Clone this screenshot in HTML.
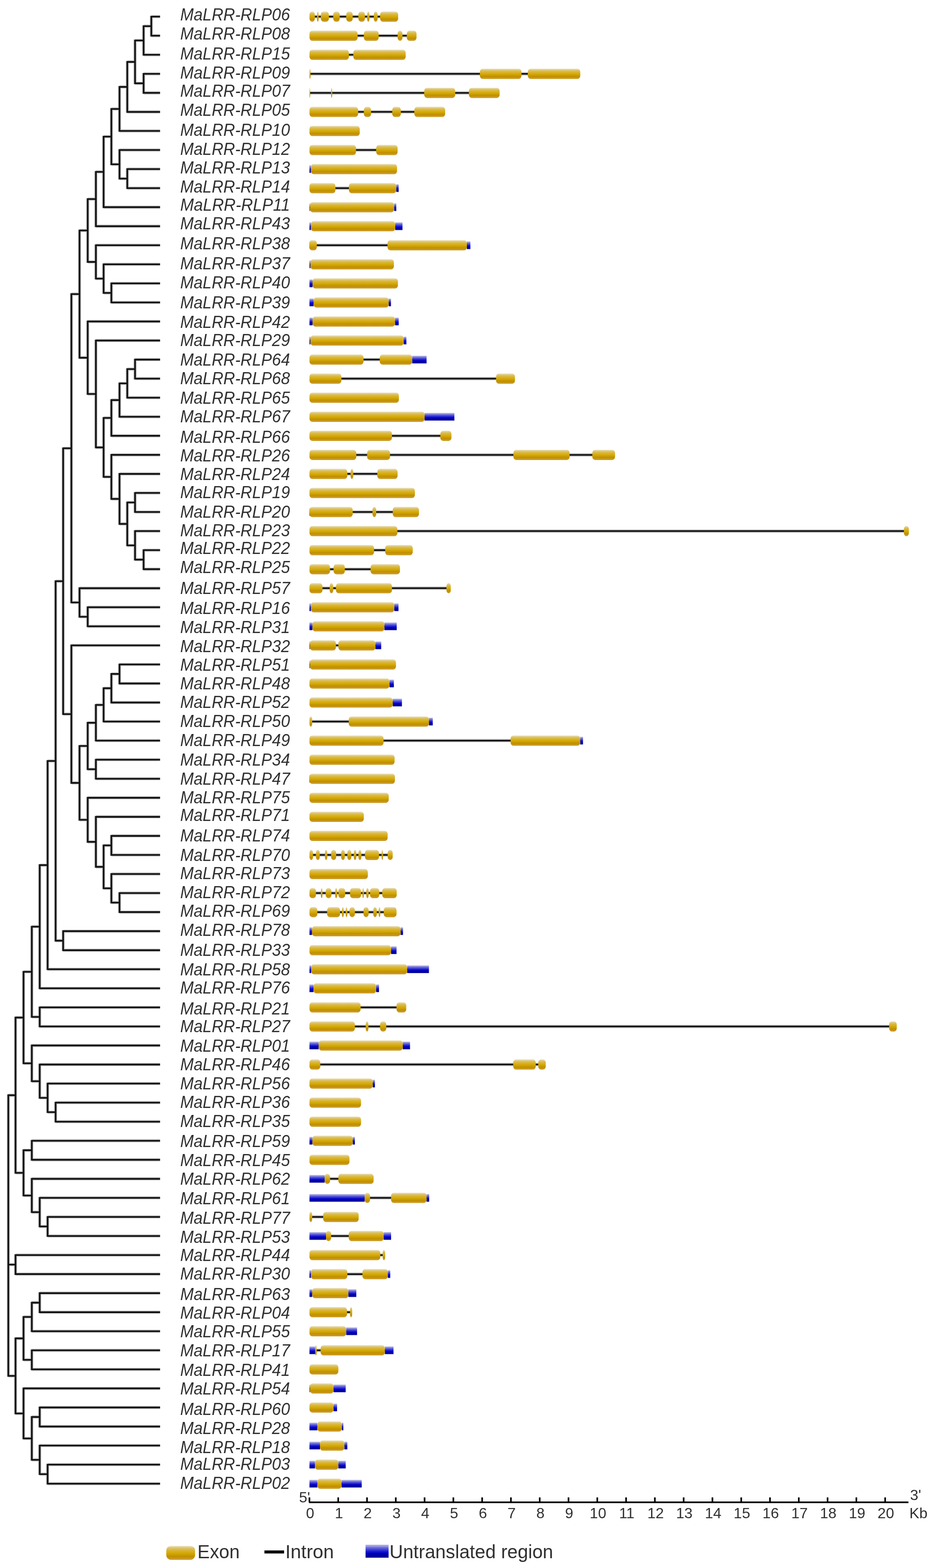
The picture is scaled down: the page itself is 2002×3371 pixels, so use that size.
<!DOCTYPE html>
<html><head><meta charset="utf-8"><title>MaLRR-RLP gene structure</title><style>html,body{margin:0;padding:0;background:#fff}svg{display:block}</style></head><body>
<svg width="2002" height="3371" viewBox="0 0 2002 3371">
<defs>
<linearGradient id="ex" x1="0" y1="0" x2="0" y2="1"><stop offset="0" stop-color="#ebe1bc"/><stop offset="0.07" stop-color="#e4d6a0"/><stop offset="0.14" stop-color="#dcc676"/><stop offset="0.28" stop-color="#dab840"/><stop offset="0.4" stop-color="#d8b020"/><stop offset="0.53" stop-color="#d4a800"/><stop offset="0.64" stop-color="#c89e00"/><stop offset="0.77" stop-color="#c08c00"/><stop offset="0.86" stop-color="#c8961a"/><stop offset="1" stop-color="#cc9e28"/></linearGradient>
<linearGradient id="ut" x1="0" y1="0" x2="0" y2="1"><stop offset="0" stop-color="#b8b8e0"/><stop offset="0.12" stop-color="#9a9ade"/><stop offset="0.22" stop-color="#6e6ed8"/><stop offset="0.38" stop-color="#4040d8"/><stop offset="0.55" stop-color="#1010d8"/><stop offset="0.68" stop-color="#0000b0"/><stop offset="0.85" stop-color="#0000a0"/><stop offset="1" stop-color="#101090"/></linearGradient>
</defs>
<rect width="100%" height="100%" fill="#fff"/>
<path d="M325.4 34V78.56M325.4 35.8H344.2M325.4 76.76H344.2M308.8 54.48V119.52M308.8 56.28H325.4M308.8 117.72H344.2M308.8 156.88V201.44M308.8 158.68H344.2M308.8 199.64H344.2M290.4 85.2V180.96M290.4 87H308.8M290.4 179.16H308.8M273.7 131.28V242.4M273.7 133.08H290.4M273.7 240.6H344.2M257 185.04V283.36M257 186.84H273.7M257 281.56H344.2M273.7 361.68V406.24M273.7 363.48H344.2M273.7 404.44H344.2M257 320.72V385.76M257 322.52H344.2M257 383.96H273.7M239.5 232.4V355.04M239.5 234.2H257M239.5 353.24H257M222.8 291.92V447.2M222.8 293.72H239.5M222.8 445.4H344.2M206.2 367.76V488.16M206.2 369.56H222.8M206.2 486.36H344.2M239.5 607.44V652M239.5 609.24H344.2M239.5 650.2H344.2M222.8 566.48V631.52M222.8 568.28H344.2M222.8 629.72H239.5M206.2 525.52V600.8M206.2 527.32H344.2M206.2 599H222.8M188.6 426.16V564.96M188.6 427.96H206.2M188.6 563.16H206.2M290.4 771.28V815.84M290.4 773.08H344.2M290.4 814.04H344.2M273.7 791.76V856.8M273.7 793.56H290.4M273.7 855H344.2M257 822.48V897.76M257 824.28H273.7M257 895.96H344.2M239.5 858.32V938.72M239.5 860.12H257M239.5 936.92H344.2M290.4 1058V1102.56M290.4 1059.8H344.2M290.4 1100.76H344.2M308.8 1180.88V1225.44M308.8 1182.68H344.2M308.8 1223.64H344.2M290.4 1139.92V1204.96M290.4 1141.72H344.2M290.4 1203.16H308.8M273.7 1078.48V1174.24M273.7 1080.28H290.4M273.7 1172.44H290.4M257 1017.04V1128.16M257 1018.84H344.2M257 1126.36H273.7M239.5 976.08V1074.4M239.5 977.88H344.2M239.5 1072.6H257M222.8 896.72V1027.04M222.8 898.52H239.5M222.8 1025.24H239.5M206.2 730.32V963.68M206.2 732.12H344.2M206.2 961.88H222.8M188.6 689.36V848.8M188.6 691.16H344.2M188.6 847H206.2M171 493.76V770.88M171 495.56H188.6M171 769.08H188.6M188.6 1303.76V1348.32M188.6 1305.56H344.2M188.6 1346.52H344.2M171 1262.8V1327.84M171 1264.6H344.2M171 1326.04H188.6M153.5 630.52V1297.12M153.5 632.32H171M153.5 1295.32H171M257 1426.64V1471.2M257 1428.44H344.2M257 1469.4H344.2M239.5 1447.12V1512.16M239.5 1448.92H257M239.5 1510.36H344.2M222.8 1477.84V1553.12M222.8 1479.64H239.5M222.8 1551.32H344.2M206.2 1513.68V1594.08M206.2 1515.48H222.8M206.2 1592.28H344.2M206.2 1631.44V1676M206.2 1633.24H344.2M206.2 1674.2H344.2M188.6 1552.08V1655.52M188.6 1553.88H206.2M188.6 1653.72H206.2M239.5 1795.28V1839.84M239.5 1797.08H344.2M239.5 1838.04H344.2M257 1918.16V1962.72M257 1919.96H344.2M257 1960.92H344.2M239.5 1877.2V1942.24M239.5 1879H344.2M239.5 1940.44H257M222.8 1815.76V1911.52M222.8 1817.56H239.5M222.8 1909.72H239.5M206.2 1754.32V1865.44M206.2 1756.12H344.2M206.2 1863.64H222.8M188.6 1713.36V1811.68M188.6 1715.16H344.2M188.6 1809.88H206.2M171 1602V1764.32M171 1603.8H188.6M171 1762.52H188.6M153.5 1385.68V1684.96M153.5 1387.48H344.2M153.5 1683.16H171M135.8 962.02V1537.12M135.8 963.82H153.5M135.8 1535.32H153.5M135.8 2000.08V2044.64M135.8 2001.88H344.2M135.8 2042.84H344.2M119.6 1247.77V2024.16M119.6 1249.57H135.8M119.6 2022.36H135.8M102.4 1634.17V2085.6M102.4 1635.97H119.6M102.4 2083.8H344.2M85.4 1858.08V2126.56M85.4 1859.88H102.4M85.4 2124.76H344.2M85.4 2163.92V2208.48M85.4 2165.72H344.2M85.4 2206.68H344.2M68.4 1990.52V2188M68.4 1992.32H85.4M68.4 2186.2H85.4M119.6 2368.72V2413.28M119.6 2370.52H344.2M119.6 2411.48H344.2M102.4 2327.76V2392.8M102.4 2329.56H344.2M102.4 2391H119.6M85.4 2286.8V2362.08M85.4 2288.6H344.2M85.4 2360.28H102.4M68.4 2245.84V2326.24M68.4 2247.64H344.2M68.4 2324.44H85.4M50.6 2087.46V2287.84M50.6 2089.26H68.4M50.6 2286.04H68.4M68.4 2450.64V2495.2M68.4 2452.44H344.2M68.4 2493.4H344.2M102.4 2614.48V2659.04M102.4 2616.28H344.2M102.4 2657.24H344.2M85.4 2573.52V2638.56M85.4 2575.32H344.2M85.4 2636.76H102.4M68.4 2532.56V2607.84M68.4 2534.36H344.2M68.4 2606.04H85.4M50.6 2471.12V2572M50.6 2472.92H68.4M50.6 2570.2H68.4M33.4 2185.85V2523.36M33.4 2187.65H50.6M33.4 2521.56H50.6M33.4 2696.4V2740.96M33.4 2698.2H344.2M33.4 2739.16H344.2M85.4 2778.32V2822.88M85.4 2780.12H344.2M85.4 2821.08H344.2M68.4 2798.8V2863.84M68.4 2800.6H85.4M68.4 2862.04H344.2M68.4 2901.2V2945.76M68.4 2903H344.2M68.4 2943.96H344.2M50.6 2829.52V2925.28M50.6 2831.32H68.4M50.6 2923.48H68.4M85.4 3024.08V3068.64M85.4 3025.88H344.2M85.4 3066.84H344.2M102.4 3146.96V3191.52M102.4 3148.76H344.2M102.4 3189.72H344.2M85.4 3106V3171.04M85.4 3107.8H344.2M85.4 3169.24H102.4M68.4 3044.56V3140.32M68.4 3046.36H85.4M68.4 3138.52H85.4M50.6 2983.12V3094.24M50.6 2984.92H344.2M50.6 3092.44H68.4M33.4 2875.6V3040.48M33.4 2877.4H50.6M33.4 3038.68H50.6M17.9 2352.81V2959.84M17.9 2354.61H33.4M17.9 2718.68H33.4M17.9 2958.04H33.4" stroke="#c8c8c8" stroke-width="7" fill="none"/>
<path d="M325.4 34V78.56M325.4 35.8H344.2M325.4 76.76H344.2M308.8 54.48V119.52M308.8 56.28H325.4M308.8 117.72H344.2M308.8 156.88V201.44M308.8 158.68H344.2M308.8 199.64H344.2M290.4 85.2V180.96M290.4 87H308.8M290.4 179.16H308.8M273.7 131.28V242.4M273.7 133.08H290.4M273.7 240.6H344.2M257 185.04V283.36M257 186.84H273.7M257 281.56H344.2M273.7 361.68V406.24M273.7 363.48H344.2M273.7 404.44H344.2M257 320.72V385.76M257 322.52H344.2M257 383.96H273.7M239.5 232.4V355.04M239.5 234.2H257M239.5 353.24H257M222.8 291.92V447.2M222.8 293.72H239.5M222.8 445.4H344.2M206.2 367.76V488.16M206.2 369.56H222.8M206.2 486.36H344.2M239.5 607.44V652M239.5 609.24H344.2M239.5 650.2H344.2M222.8 566.48V631.52M222.8 568.28H344.2M222.8 629.72H239.5M206.2 525.52V600.8M206.2 527.32H344.2M206.2 599H222.8M188.6 426.16V564.96M188.6 427.96H206.2M188.6 563.16H206.2M290.4 771.28V815.84M290.4 773.08H344.2M290.4 814.04H344.2M273.7 791.76V856.8M273.7 793.56H290.4M273.7 855H344.2M257 822.48V897.76M257 824.28H273.7M257 895.96H344.2M239.5 858.32V938.72M239.5 860.12H257M239.5 936.92H344.2M290.4 1058V1102.56M290.4 1059.8H344.2M290.4 1100.76H344.2M308.8 1180.88V1225.44M308.8 1182.68H344.2M308.8 1223.64H344.2M290.4 1139.92V1204.96M290.4 1141.72H344.2M290.4 1203.16H308.8M273.7 1078.48V1174.24M273.7 1080.28H290.4M273.7 1172.44H290.4M257 1017.04V1128.16M257 1018.84H344.2M257 1126.36H273.7M239.5 976.08V1074.4M239.5 977.88H344.2M239.5 1072.6H257M222.8 896.72V1027.04M222.8 898.52H239.5M222.8 1025.24H239.5M206.2 730.32V963.68M206.2 732.12H344.2M206.2 961.88H222.8M188.6 689.36V848.8M188.6 691.16H344.2M188.6 847H206.2M171 493.76V770.88M171 495.56H188.6M171 769.08H188.6M188.6 1303.76V1348.32M188.6 1305.56H344.2M188.6 1346.52H344.2M171 1262.8V1327.84M171 1264.6H344.2M171 1326.04H188.6M153.5 630.52V1297.12M153.5 632.32H171M153.5 1295.32H171M257 1426.64V1471.2M257 1428.44H344.2M257 1469.4H344.2M239.5 1447.12V1512.16M239.5 1448.92H257M239.5 1510.36H344.2M222.8 1477.84V1553.12M222.8 1479.64H239.5M222.8 1551.32H344.2M206.2 1513.68V1594.08M206.2 1515.48H222.8M206.2 1592.28H344.2M206.2 1631.44V1676M206.2 1633.24H344.2M206.2 1674.2H344.2M188.6 1552.08V1655.52M188.6 1553.88H206.2M188.6 1653.72H206.2M239.5 1795.28V1839.84M239.5 1797.08H344.2M239.5 1838.04H344.2M257 1918.16V1962.72M257 1919.96H344.2M257 1960.92H344.2M239.5 1877.2V1942.24M239.5 1879H344.2M239.5 1940.44H257M222.8 1815.76V1911.52M222.8 1817.56H239.5M222.8 1909.72H239.5M206.2 1754.32V1865.44M206.2 1756.12H344.2M206.2 1863.64H222.8M188.6 1713.36V1811.68M188.6 1715.16H344.2M188.6 1809.88H206.2M171 1602V1764.32M171 1603.8H188.6M171 1762.52H188.6M153.5 1385.68V1684.96M153.5 1387.48H344.2M153.5 1683.16H171M135.8 962.02V1537.12M135.8 963.82H153.5M135.8 1535.32H153.5M135.8 2000.08V2044.64M135.8 2001.88H344.2M135.8 2042.84H344.2M119.6 1247.77V2024.16M119.6 1249.57H135.8M119.6 2022.36H135.8M102.4 1634.17V2085.6M102.4 1635.97H119.6M102.4 2083.8H344.2M85.4 1858.08V2126.56M85.4 1859.88H102.4M85.4 2124.76H344.2M85.4 2163.92V2208.48M85.4 2165.72H344.2M85.4 2206.68H344.2M68.4 1990.52V2188M68.4 1992.32H85.4M68.4 2186.2H85.4M119.6 2368.72V2413.28M119.6 2370.52H344.2M119.6 2411.48H344.2M102.4 2327.76V2392.8M102.4 2329.56H344.2M102.4 2391H119.6M85.4 2286.8V2362.08M85.4 2288.6H344.2M85.4 2360.28H102.4M68.4 2245.84V2326.24M68.4 2247.64H344.2M68.4 2324.44H85.4M50.6 2087.46V2287.84M50.6 2089.26H68.4M50.6 2286.04H68.4M68.4 2450.64V2495.2M68.4 2452.44H344.2M68.4 2493.4H344.2M102.4 2614.48V2659.04M102.4 2616.28H344.2M102.4 2657.24H344.2M85.4 2573.52V2638.56M85.4 2575.32H344.2M85.4 2636.76H102.4M68.4 2532.56V2607.84M68.4 2534.36H344.2M68.4 2606.04H85.4M50.6 2471.12V2572M50.6 2472.92H68.4M50.6 2570.2H68.4M33.4 2185.85V2523.36M33.4 2187.65H50.6M33.4 2521.56H50.6M33.4 2696.4V2740.96M33.4 2698.2H344.2M33.4 2739.16H344.2M85.4 2778.32V2822.88M85.4 2780.12H344.2M85.4 2821.08H344.2M68.4 2798.8V2863.84M68.4 2800.6H85.4M68.4 2862.04H344.2M68.4 2901.2V2945.76M68.4 2903H344.2M68.4 2943.96H344.2M50.6 2829.52V2925.28M50.6 2831.32H68.4M50.6 2923.48H68.4M85.4 3024.08V3068.64M85.4 3025.88H344.2M85.4 3066.84H344.2M102.4 3146.96V3191.52M102.4 3148.76H344.2M102.4 3189.72H344.2M85.4 3106V3171.04M85.4 3107.8H344.2M85.4 3169.24H102.4M68.4 3044.56V3140.32M68.4 3046.36H85.4M68.4 3138.52H85.4M50.6 2983.12V3094.24M50.6 2984.92H344.2M50.6 3092.44H68.4M33.4 2875.6V3040.48M33.4 2877.4H50.6M33.4 3038.68H50.6M17.9 2352.81V2959.84M17.9 2354.61H33.4M17.9 2718.68H33.4M17.9 2958.04H33.4" stroke="#111" stroke-width="3.6" fill="none"/>
<g font-family="Liberation Sans, Arial, sans-serif" font-style="italic" font-size="37" fill="#303030">
<text x="387.5" y="44.05" textLength="236" lengthAdjust="spacingAndGlyphs">MaLRR-RLP06</text>
<text x="387.5" y="84.66" textLength="236" lengthAdjust="spacingAndGlyphs">MaLRR-RLP08</text>
<text x="387.5" y="127.92" textLength="236" lengthAdjust="spacingAndGlyphs">MaLRR-RLP15</text>
<text x="387.5" y="168.68" textLength="236" lengthAdjust="spacingAndGlyphs">MaLRR-RLP09</text>
<text x="387.5" y="207.94" textLength="236" lengthAdjust="spacingAndGlyphs">MaLRR-RLP07</text>
<text x="387.5" y="249.25" textLength="236" lengthAdjust="spacingAndGlyphs">MaLRR-RLP05</text>
<text x="387.5" y="292.36" textLength="236" lengthAdjust="spacingAndGlyphs">MaLRR-RLP10</text>
<text x="387.5" y="333.32" textLength="236" lengthAdjust="spacingAndGlyphs">MaLRR-RLP12</text>
<text x="387.5" y="373.28" textLength="236" lengthAdjust="spacingAndGlyphs">MaLRR-RLP13</text>
<text x="387.5" y="413.64" textLength="236" lengthAdjust="spacingAndGlyphs">MaLRR-RLP14</text>
<text x="387.5" y="453.2" textLength="236" lengthAdjust="spacingAndGlyphs">MaLRR-RLP11</text>
<text x="387.5" y="492.66" textLength="236" lengthAdjust="spacingAndGlyphs">MaLRR-RLP43</text>
<text x="387.5" y="535.52" textLength="236" lengthAdjust="spacingAndGlyphs">MaLRR-RLP38</text>
<text x="387.5" y="579.18" textLength="236" lengthAdjust="spacingAndGlyphs">MaLRR-RLP37</text>
<text x="387.5" y="620.24" textLength="236" lengthAdjust="spacingAndGlyphs">MaLRR-RLP40</text>
<text x="387.5" y="662.65" textLength="236" lengthAdjust="spacingAndGlyphs">MaLRR-RLP39</text>
<text x="387.5" y="704.81" textLength="236" lengthAdjust="spacingAndGlyphs">MaLRR-RLP42</text>
<text x="387.5" y="743.92" textLength="236" lengthAdjust="spacingAndGlyphs">MaLRR-RLP29</text>
<text x="387.5" y="785.68" textLength="236" lengthAdjust="spacingAndGlyphs">MaLRR-RLP64</text>
<text x="387.5" y="826.04" textLength="236" lengthAdjust="spacingAndGlyphs">MaLRR-RLP68</text>
<text x="387.5" y="867.85" textLength="236" lengthAdjust="spacingAndGlyphs">MaLRR-RLP65</text>
<text x="387.5" y="908.36" textLength="236" lengthAdjust="spacingAndGlyphs">MaLRR-RLP67</text>
<text x="387.5" y="951.62" textLength="236" lengthAdjust="spacingAndGlyphs">MaLRR-RLP66</text>
<text x="387.5" y="991.98" textLength="236" lengthAdjust="spacingAndGlyphs">MaLRR-RLP26</text>
<text x="387.5" y="1032.34" textLength="236" lengthAdjust="spacingAndGlyphs">MaLRR-RLP24</text>
<text x="387.5" y="1070.75" textLength="236" lengthAdjust="spacingAndGlyphs">MaLRR-RLP19</text>
<text x="387.5" y="1112.66" textLength="236" lengthAdjust="spacingAndGlyphs">MaLRR-RLP20</text>
<text x="387.5" y="1153.12" textLength="236" lengthAdjust="spacingAndGlyphs">MaLRR-RLP23</text>
<text x="387.5" y="1190.88" textLength="236" lengthAdjust="spacingAndGlyphs">MaLRR-RLP22</text>
<text x="387.5" y="1232.24" textLength="236" lengthAdjust="spacingAndGlyphs">MaLRR-RLP25</text>
<text x="387.5" y="1277.4" textLength="236" lengthAdjust="spacingAndGlyphs">MaLRR-RLP57</text>
<text x="387.5" y="1319.86" textLength="236" lengthAdjust="spacingAndGlyphs">MaLRR-RLP16</text>
<text x="387.5" y="1361.22" textLength="236" lengthAdjust="spacingAndGlyphs">MaLRR-RLP31</text>
<text x="387.5" y="1401.58" textLength="236" lengthAdjust="spacingAndGlyphs">MaLRR-RLP32</text>
<text x="387.5" y="1442.34" textLength="236" lengthAdjust="spacingAndGlyphs">MaLRR-RLP51</text>
<text x="387.5" y="1481.75" textLength="236" lengthAdjust="spacingAndGlyphs">MaLRR-RLP48</text>
<text x="387.5" y="1521.86" textLength="236" lengthAdjust="spacingAndGlyphs">MaLRR-RLP52</text>
<text x="387.5" y="1562.62" textLength="236" lengthAdjust="spacingAndGlyphs">MaLRR-RLP50</text>
<text x="387.5" y="1604.28" textLength="236" lengthAdjust="spacingAndGlyphs">MaLRR-RLP49</text>
<text x="387.5" y="1645.64" textLength="236" lengthAdjust="spacingAndGlyphs">MaLRR-RLP34</text>
<text x="387.5" y="1686.75" textLength="236" lengthAdjust="spacingAndGlyphs">MaLRR-RLP47</text>
<text x="387.5" y="1727.36" textLength="236" lengthAdjust="spacingAndGlyphs">MaLRR-RLP75</text>
<text x="387.5" y="1764.92" textLength="236" lengthAdjust="spacingAndGlyphs">MaLRR-RLP71</text>
<text x="387.5" y="1808.58" textLength="236" lengthAdjust="spacingAndGlyphs">MaLRR-RLP74</text>
<text x="387.5" y="1850.84" textLength="236" lengthAdjust="spacingAndGlyphs">MaLRR-RLP70</text>
<text x="387.5" y="1889.65" textLength="236" lengthAdjust="spacingAndGlyphs">MaLRR-RLP73</text>
<text x="387.5" y="1931.26" textLength="236" lengthAdjust="spacingAndGlyphs">MaLRR-RLP72</text>
<text x="387.5" y="1970.52" textLength="236" lengthAdjust="spacingAndGlyphs">MaLRR-RLP69</text>
<text x="387.5" y="2012.18" textLength="236" lengthAdjust="spacingAndGlyphs">MaLRR-RLP78</text>
<text x="387.5" y="2055.24" textLength="236" lengthAdjust="spacingAndGlyphs">MaLRR-RLP33</text>
<text x="387.5" y="2097" textLength="236" lengthAdjust="spacingAndGlyphs">MaLRR-RLP58</text>
<text x="387.5" y="2136.26" textLength="236" lengthAdjust="spacingAndGlyphs">MaLRR-RLP76</text>
<text x="387.5" y="2180.82" textLength="236" lengthAdjust="spacingAndGlyphs">MaLRR-RLP21</text>
<text x="387.5" y="2218.58" textLength="236" lengthAdjust="spacingAndGlyphs">MaLRR-RLP27</text>
<text x="387.5" y="2260.84" textLength="236" lengthAdjust="spacingAndGlyphs">MaLRR-RLP01</text>
<text x="387.5" y="2300.9" textLength="236" lengthAdjust="spacingAndGlyphs">MaLRR-RLP46</text>
<text x="387.5" y="2341.86" textLength="236" lengthAdjust="spacingAndGlyphs">MaLRR-RLP56</text>
<text x="387.5" y="2382.02" textLength="236" lengthAdjust="spacingAndGlyphs">MaLRR-RLP36</text>
<text x="387.5" y="2422.58" textLength="236" lengthAdjust="spacingAndGlyphs">MaLRR-RLP35</text>
<text x="387.5" y="2466.04" textLength="236" lengthAdjust="spacingAndGlyphs">MaLRR-RLP59</text>
<text x="387.5" y="2506.6" textLength="236" lengthAdjust="spacingAndGlyphs">MaLRR-RLP45</text>
<text x="387.5" y="2547.26" textLength="236" lengthAdjust="spacingAndGlyphs">MaLRR-RLP62</text>
<text x="387.5" y="2588.92" textLength="236" lengthAdjust="spacingAndGlyphs">MaLRR-RLP61</text>
<text x="387.5" y="2631.18" textLength="236" lengthAdjust="spacingAndGlyphs">MaLRR-RLP77</text>
<text x="387.5" y="2672.14" textLength="236" lengthAdjust="spacingAndGlyphs">MaLRR-RLP53</text>
<text x="387.5" y="2710.75" textLength="236" lengthAdjust="spacingAndGlyphs">MaLRR-RLP44</text>
<text x="387.5" y="2751.26" textLength="236" lengthAdjust="spacingAndGlyphs">MaLRR-RLP30</text>
<text x="387.5" y="2794.72" textLength="236" lengthAdjust="spacingAndGlyphs">MaLRR-RLP63</text>
<text x="387.5" y="2835.08" textLength="236" lengthAdjust="spacingAndGlyphs">MaLRR-RLP04</text>
<text x="387.5" y="2875.24" textLength="236" lengthAdjust="spacingAndGlyphs">MaLRR-RLP55</text>
<text x="387.5" y="2916.2" textLength="236" lengthAdjust="spacingAndGlyphs">MaLRR-RLP17</text>
<text x="387.5" y="2957.96" textLength="236" lengthAdjust="spacingAndGlyphs">MaLRR-RLP41</text>
<text x="387.5" y="2998.32" textLength="236" lengthAdjust="spacingAndGlyphs">MaLRR-RLP54</text>
<text x="387.5" y="3041.58" textLength="236" lengthAdjust="spacingAndGlyphs">MaLRR-RLP60</text>
<text x="387.5" y="3083.14" textLength="236" lengthAdjust="spacingAndGlyphs">MaLRR-RLP28</text>
<text x="387.5" y="3123.65" textLength="236" lengthAdjust="spacingAndGlyphs">MaLRR-RLP18</text>
<text x="387.5" y="3160.36" textLength="236" lengthAdjust="spacingAndGlyphs">MaLRR-RLP03</text>
<text x="387.5" y="3200.62" textLength="236" lengthAdjust="spacingAndGlyphs">MaLRR-RLP02</text>
</g>
<path d="M671.3 35.8H836.75M717.25 76.76H885.25M707.9 117.72H816.05M666.65 158.68H1191.4M666.25 199.64H1041.35M717.8 240.6H924.15M715.5 322.52H832M667 363.48H761.15M693.4 404.44H854.75M666.05 445.4H849.9M667 486.36H857.7M673.1 527.32H1007.75M666.5 568.28H757.25M668.75 609.24H763.85M669.95 650.2H838.25M668.75 691.16H853.45M666.5 732.12H871.05M723.6 773.08H901.85M699.8 814.04H1087.05M789.3 895.96H945.1M754.2 936.92H958.85M715.85 977.88H1298.15M706.2 1018.84H833.15M666 1100.76H872.75M760 1141.72H1949.1M734.9 1182.68H857.95M687.6 1223.64H828.5M679.45 1264.6H964.75M667 1305.56H852.45M668.6 1346.52H839.85M666.05 1387.48H813.5M666.05 1428.44H759.05M751.55 1469.4H842.25M755 1510.36H854.4M668.4 1551.32H926.5M745.15 1592.28H1250.65M666 1674.2H757.35M669.3 1838.04H839.05M672.45 1919.96H837.55M673.95 1960.92H838.95M668.15 2001.88H864.05M753.25 2042.84H846.85M667.25 2083.8H898.95M669.8 2124.76H812M720.5 2165.72H863.15M714.3 2206.68H1920.2M675.35 2247.64H873.95M677.1 2288.6H1165.5M733.5 2329.56H803.85M668.6 2452.44H760.8M681.75 2534.36H765.5M724.8 2575.32H920.1M668.4 2616.28H733.15M683.25 2657.24H833.1M741.65 2698.2H825.6M667 2739.16H836.65M668.4 2780.12H757.7M705.85 2821.08H755M705 2862.04H756.15M671.65 2903H836.9M666.05 2984.92H730.35M691.4 3025.88H721.05M673.95 3066.84H736.75M676.75 3107.8H743.75M671.3 3148.76H735.5M673.95 3189.72H756.15" stroke="#c8c8c8" stroke-width="7.5" fill="none"/>
<path d="M671.3 35.8H836.75M717.25 76.76H885.25M707.9 117.72H816.05M666.65 158.68H1191.4M666.25 199.64H1041.35M717.8 240.6H924.15M715.5 322.52H832M667 363.48H761.15M693.4 404.44H854.75M666.05 445.4H849.9M667 486.36H857.7M673.1 527.32H1007.75M666.5 568.28H757.25M668.75 609.24H763.85M669.95 650.2H838.25M668.75 691.16H853.45M666.5 732.12H871.05M723.6 773.08H901.85M699.8 814.04H1087.05M789.3 895.96H945.1M754.2 936.92H958.85M715.85 977.88H1298.15M706.2 1018.84H833.15M666 1100.76H872.75M760 1141.72H1949.1M734.9 1182.68H857.95M687.6 1223.64H828.5M679.45 1264.6H964.75M667 1305.56H852.45M668.6 1346.52H839.85M666.05 1387.48H813.5M666.05 1428.44H759.05M751.55 1469.4H842.25M755 1510.36H854.4M668.4 1551.32H926.5M745.15 1592.28H1250.65M666 1674.2H757.35M669.3 1838.04H839.05M672.45 1919.96H837.55M673.95 1960.92H838.95M668.15 2001.88H864.05M753.25 2042.84H846.85M667.25 2083.8H898.95M669.8 2124.76H812M720.5 2165.72H863.15M714.3 2206.68H1920.2M675.35 2247.64H873.95M677.1 2288.6H1165.5M733.5 2329.56H803.85M668.6 2452.44H760.8M681.75 2534.36H765.5M724.8 2575.32H920.1M668.4 2616.28H733.15M683.25 2657.24H833.1M741.65 2698.2H825.6M667 2739.16H836.65M668.4 2780.12H757.7M705.85 2821.08H755M705 2862.04H756.15M671.65 2903H836.9M666.05 2984.92H730.35M691.4 3025.88H721.05M673.95 3066.84H736.75M676.75 3107.8H743.75M671.3 3148.76H735.5M673.95 3189.72H756.15" stroke="#111" stroke-width="3.5" fill="none"/>
<rect x="665.5" y="24.8" width="11.6" height="22" rx="5.8" ry="7" fill="url(#ex)"/>
<rect x="681.7" y="24.8" width="3.5" height="22" rx="1.75" ry="7" fill="url(#ex)"/>
<rect x="689.9" y="24.8" width="17.4" height="22" rx="6" ry="7" fill="url(#ex)"/>
<rect x="716.6" y="24.8" width="14" height="22" rx="6" ry="7" fill="url(#ex)"/>
<rect x="744.5" y="24.8" width="14" height="22" rx="6" ry="7" fill="url(#ex)"/>
<rect x="770.6" y="24.8" width="14.2" height="22" rx="6" ry="7" fill="url(#ex)"/>
<rect x="789.4" y="24.8" width="5.1" height="22" rx="2.55" ry="7" fill="url(#ex)"/>
<rect x="803.8" y="24.8" width="8.2" height="22" rx="4.1" ry="7" fill="url(#ex)"/>
<rect x="817.3" y="24.8" width="38.9" height="22" rx="6" ry="7" fill="url(#ex)"/>
<rect x="665.5" y="65.76" width="103.5" height="22" rx="6" ry="7" fill="url(#ex)"/>
<rect x="782.4" y="65.76" width="31.9" height="22" rx="6" ry="7" fill="url(#ex)"/>
<rect x="855" y="65.76" width="10.5" height="22" rx="5.25" ry="7" fill="url(#ex)"/>
<rect x="874.8" y="65.76" width="20.9" height="22" rx="6" ry="7" fill="url(#ex)"/>
<rect x="665.5" y="106.72" width="84.8" height="22" rx="6" ry="7" fill="url(#ex)"/>
<rect x="759.7" y="106.72" width="112.7" height="22" rx="6" ry="7" fill="url(#ex)"/>
<rect x="665.5" y="147.68" width="2.3" height="22" rx="1.15" ry="7" fill="url(#ex)"/>
<rect x="1031.9" y="147.68" width="89.5" height="22" rx="6" ry="7" fill="url(#ex)"/>
<rect x="1135" y="147.68" width="112.8" height="22" rx="6" ry="7" fill="url(#ex)"/>
<rect x="665.5" y="188.64" width="1.5" height="22" rx="0.75" ry="7" fill="url(#ex)"/>
<rect x="712" y="188.64" width="2.3" height="22" rx="1.15" ry="7" fill="url(#ex)"/>
<rect x="912.2" y="188.64" width="66.7" height="22" rx="6" ry="7" fill="url(#ex)"/>
<rect x="1008.3" y="188.64" width="66.1" height="22" rx="6" ry="7" fill="url(#ex)"/>
<rect x="665.5" y="229.6" width="104.6" height="22" rx="6" ry="7" fill="url(#ex)"/>
<rect x="782.4" y="229.6" width="15.6" height="22" rx="6" ry="7" fill="url(#ex)"/>
<rect x="843.4" y="229.6" width="18.6" height="22" rx="6" ry="7" fill="url(#ex)"/>
<rect x="891" y="229.6" width="66.3" height="22" rx="6" ry="7" fill="url(#ex)"/>
<rect x="665.5" y="270.56" width="108.1" height="22" rx="6" ry="7" fill="url(#ex)"/>
<rect x="665.5" y="311.52" width="100" height="22" rx="6" ry="7" fill="url(#ex)"/>
<rect x="809" y="311.52" width="46" height="22" rx="6" ry="7" fill="url(#ex)"/>
<rect x="665.5" y="355.23" width="3" height="16.5" fill="url(#ut)"/>
<rect x="668.5" y="352.48" width="185.3" height="22" rx="6" ry="7" fill="url(#ex)"/>
<rect x="852.2" y="396.19" width="5.1" height="16.5" fill="url(#ut)"/>
<rect x="665.5" y="393.44" width="55.8" height="22" rx="6" ry="7" fill="url(#ex)"/>
<rect x="750.3" y="393.44" width="101.9" height="22" rx="6" ry="7" fill="url(#ex)"/>
<rect x="665.5" y="437.15" width="1.1" height="16.5" fill="url(#ut)"/>
<rect x="847.6" y="437.15" width="4.6" height="16.5" fill="url(#ut)"/>
<rect x="666.6" y="434.4" width="181" height="22" rx="6" ry="7" fill="url(#ex)"/>
<rect x="665.5" y="478.11" width="3" height="16.5" fill="url(#ut)"/>
<rect x="849.9" y="478.11" width="15.6" height="16.5" fill="url(#ut)"/>
<rect x="668.5" y="475.36" width="181.4" height="22" rx="6" ry="7" fill="url(#ex)"/>
<rect x="1004" y="519.07" width="7.5" height="16.5" fill="url(#ut)"/>
<rect x="665" y="516.32" width="16.2" height="22" rx="6" ry="7" fill="url(#ex)"/>
<rect x="833.3" y="516.32" width="170.7" height="22" rx="6" ry="7" fill="url(#ex)"/>
<rect x="665.5" y="560.03" width="2" height="16.5" fill="url(#ut)"/>
<rect x="667.5" y="557.28" width="179.5" height="22" rx="6" ry="7" fill="url(#ex)"/>
<rect x="665.5" y="600.99" width="6.5" height="16.5" fill="url(#ut)"/>
<rect x="672" y="598.24" width="183.7" height="22" rx="6" ry="7" fill="url(#ex)"/>
<rect x="665.5" y="641.95" width="8.9" height="16.5" fill="url(#ut)"/>
<rect x="835.8" y="641.95" width="4.9" height="16.5" fill="url(#ut)"/>
<rect x="674.4" y="639.2" width="161.4" height="22" rx="6" ry="7" fill="url(#ex)"/>
<rect x="665.5" y="682.91" width="6.5" height="16.5" fill="url(#ut)"/>
<rect x="849.5" y="682.91" width="7.9" height="16.5" fill="url(#ut)"/>
<rect x="672" y="680.16" width="177.5" height="22" rx="6" ry="7" fill="url(#ex)"/>
<rect x="665.5" y="723.87" width="2" height="16.5" fill="url(#ut)"/>
<rect x="868.2" y="723.87" width="5.7" height="16.5" fill="url(#ut)"/>
<rect x="667.5" y="721.12" width="200.7" height="22" rx="6" ry="7" fill="url(#ex)"/>
<rect x="886.4" y="764.83" width="30.9" height="16.5" fill="url(#ut)"/>
<rect x="665.5" y="762.08" width="116.2" height="22" rx="6" ry="7" fill="url(#ex)"/>
<rect x="816.6" y="762.08" width="69.8" height="22" rx="6" ry="7" fill="url(#ex)"/>
<rect x="665.5" y="803.04" width="68.6" height="22" rx="6" ry="7" fill="url(#ex)"/>
<rect x="1066.7" y="803.04" width="40.7" height="22" rx="6" ry="7" fill="url(#ex)"/>
<rect x="665.5" y="844" width="192.3" height="22" rx="6" ry="7" fill="url(#ex)"/>
<rect x="913.1" y="887.71" width="64" height="16.5" fill="url(#ut)"/>
<rect x="665.5" y="884.96" width="247.6" height="22" rx="6" ry="7" fill="url(#ex)"/>
<rect x="665.5" y="925.92" width="177.4" height="22" rx="6" ry="7" fill="url(#ex)"/>
<rect x="946.9" y="925.92" width="23.9" height="22" rx="6" ry="7" fill="url(#ex)"/>
<rect x="665.5" y="966.88" width="100.7" height="22" rx="6" ry="7" fill="url(#ex)"/>
<rect x="789.4" y="966.88" width="49.3" height="22" rx="6" ry="7" fill="url(#ex)"/>
<rect x="1104" y="966.88" width="120.9" height="22" rx="6" ry="7" fill="url(#ex)"/>
<rect x="1273.7" y="966.88" width="48.9" height="22" rx="6" ry="7" fill="url(#ex)"/>
<rect x="665.5" y="1007.84" width="81.4" height="22" rx="6" ry="7" fill="url(#ex)"/>
<rect x="753.8" y="1007.84" width="5.9" height="22" rx="2.95" ry="7" fill="url(#ex)"/>
<rect x="811.3" y="1007.84" width="43.7" height="22" rx="6" ry="7" fill="url(#ex)"/>
<rect x="665.5" y="1048.8" width="226.7" height="22" rx="6" ry="7" fill="url(#ex)"/>
<rect x="665.5" y="1092.51" width="1" height="16.5" fill="url(#ut)"/>
<rect x="665.5" y="1089.76" width="93" height="22" rx="6" ry="7" fill="url(#ex)"/>
<rect x="801" y="1089.76" width="8" height="22" rx="4" ry="7" fill="url(#ex)"/>
<rect x="844.5" y="1089.76" width="56.5" height="22" rx="6" ry="7" fill="url(#ex)"/>
<rect x="665.5" y="1130.72" width="189" height="22" rx="6" ry="7" fill="url(#ex)"/>
<rect x="1943.7" y="1130.72" width="10.8" height="22" rx="5.4" ry="7" fill="url(#ex)"/>
<rect x="665.5" y="1171.68" width="138.8" height="22" rx="6" ry="7" fill="url(#ex)"/>
<rect x="828.3" y="1171.68" width="59.3" height="22" rx="6" ry="7" fill="url(#ex)"/>
<rect x="665.5" y="1212.64" width="44.2" height="22" rx="6" ry="7" fill="url(#ex)"/>
<rect x="717.3" y="1212.64" width="24.2" height="22" rx="6" ry="7" fill="url(#ex)"/>
<rect x="796.9" y="1212.64" width="63.2" height="22" rx="6" ry="7" fill="url(#ex)"/>
<rect x="665.5" y="1253.6" width="27.9" height="22" rx="6" ry="7" fill="url(#ex)"/>
<rect x="709" y="1253.6" width="7.6" height="22" rx="3.8" ry="7" fill="url(#ex)"/>
<rect x="722.4" y="1253.6" width="120.5" height="22" rx="6" ry="7" fill="url(#ex)"/>
<rect x="960.1" y="1253.6" width="9.3" height="22" rx="4.65" ry="7" fill="url(#ex)"/>
<rect x="665.5" y="1297.31" width="3" height="16.5" fill="url(#ut)"/>
<rect x="848" y="1297.31" width="8.9" height="16.5" fill="url(#ut)"/>
<rect x="668.5" y="1294.56" width="179.5" height="22" rx="6" ry="7" fill="url(#ex)"/>
<rect x="665.5" y="1338.27" width="6.2" height="16.5" fill="url(#ut)"/>
<rect x="826.6" y="1338.27" width="26.5" height="16.5" fill="url(#ut)"/>
<rect x="671.7" y="1335.52" width="154.9" height="22" rx="6" ry="7" fill="url(#ex)"/>
<rect x="665.5" y="1379.23" width="1.1" height="16.5" fill="url(#ut)"/>
<rect x="807.3" y="1379.23" width="12.4" height="16.5" fill="url(#ut)"/>
<rect x="666.6" y="1376.48" width="55.8" height="22" rx="6" ry="7" fill="url(#ex)"/>
<rect x="727.6" y="1376.48" width="79.7" height="22" rx="6" ry="7" fill="url(#ex)"/>
<rect x="665.5" y="1420.19" width="1.1" height="16.5" fill="url(#ut)"/>
<rect x="666.6" y="1417.44" width="184.9" height="22" rx="6" ry="7" fill="url(#ex)"/>
<rect x="837.6" y="1461.15" width="9.3" height="16.5" fill="url(#ut)"/>
<rect x="665.5" y="1458.4" width="172.1" height="22" rx="6" ry="7" fill="url(#ex)"/>
<rect x="844.5" y="1502.11" width="19.8" height="16.5" fill="url(#ut)"/>
<rect x="665.5" y="1499.36" width="179" height="22" rx="6" ry="7" fill="url(#ex)"/>
<rect x="922.4" y="1543.07" width="8.2" height="16.5" fill="url(#ut)"/>
<rect x="665.5" y="1540.32" width="5.8" height="22" rx="2.9" ry="7" fill="url(#ex)"/>
<rect x="749.9" y="1540.32" width="172.5" height="22" rx="6" ry="7" fill="url(#ex)"/>
<rect x="1247.6" y="1584.03" width="6.1" height="16.5" fill="url(#ut)"/>
<rect x="665.5" y="1581.28" width="159.3" height="22" rx="6" ry="7" fill="url(#ex)"/>
<rect x="1098" y="1581.28" width="149.6" height="22" rx="6" ry="7" fill="url(#ex)"/>
<rect x="665.5" y="1622.24" width="183" height="22" rx="6" ry="7" fill="url(#ex)"/>
<rect x="665.5" y="1665.95" width="1" height="16.5" fill="url(#ut)"/>
<rect x="665.5" y="1663.2" width="183.7" height="22" rx="6" ry="7" fill="url(#ex)"/>
<rect x="665.5" y="1704.16" width="170.4" height="22" rx="6" ry="7" fill="url(#ex)"/>
<rect x="665.5" y="1745.12" width="116.9" height="22" rx="6" ry="7" fill="url(#ex)"/>
<rect x="665.5" y="1786.08" width="168.1" height="22" rx="6" ry="7" fill="url(#ex)"/>
<rect x="665.5" y="1827.04" width="7.6" height="22" rx="3.8" ry="7" fill="url(#ex)"/>
<rect x="679.4" y="1827.04" width="8.2" height="22" rx="4.1" ry="7" fill="url(#ex)"/>
<rect x="698.7" y="1827.04" width="5.1" height="22" rx="2.55" ry="7" fill="url(#ex)"/>
<rect x="712" y="1827.04" width="10.9" height="22" rx="5.45" ry="7" fill="url(#ex)"/>
<rect x="733.6" y="1827.04" width="7.9" height="22" rx="3.95" ry="7" fill="url(#ex)"/>
<rect x="746.9" y="1827.04" width="8.6" height="22" rx="4.3" ry="7" fill="url(#ex)"/>
<rect x="760.8" y="1827.04" width="5.4" height="22" rx="2.7" ry="7" fill="url(#ex)"/>
<rect x="770.8" y="1827.04" width="6.3" height="22" rx="3.15" ry="7" fill="url(#ex)"/>
<rect x="784.8" y="1827.04" width="30.2" height="22" rx="6" ry="7" fill="url(#ex)"/>
<rect x="820.6" y="1827.04" width="3" height="22" rx="1.5" ry="7" fill="url(#ex)"/>
<rect x="833.6" y="1827.04" width="10.9" height="22" rx="5.45" ry="7" fill="url(#ex)"/>
<rect x="665.5" y="1868" width="125.5" height="22" rx="6" ry="7" fill="url(#ex)"/>
<rect x="665.5" y="1908.96" width="13.9" height="22" rx="6" ry="7" fill="url(#ex)"/>
<rect x="689.9" y="1908.96" width="3.5" height="22" rx="1.75" ry="7" fill="url(#ex)"/>
<rect x="700.3" y="1908.96" width="12.4" height="22" rx="6" ry="7" fill="url(#ex)"/>
<rect x="720.6" y="1908.96" width="4.6" height="22" rx="2.3" ry="7" fill="url(#ex)"/>
<rect x="727.6" y="1908.96" width="14.6" height="22" rx="6" ry="7" fill="url(#ex)"/>
<rect x="752.7" y="1908.96" width="23.7" height="22" rx="6" ry="7" fill="url(#ex)"/>
<rect x="779.4" y="1908.96" width="3" height="22" rx="1.5" ry="7" fill="url(#ex)"/>
<rect x="787.6" y="1908.96" width="5.1" height="22" rx="2.55" ry="7" fill="url(#ex)"/>
<rect x="795.7" y="1908.96" width="19.8" height="22" rx="6" ry="7" fill="url(#ex)"/>
<rect x="822" y="1908.96" width="31.1" height="22" rx="6" ry="7" fill="url(#ex)"/>
<rect x="665.5" y="1949.92" width="16.9" height="22" rx="6" ry="7" fill="url(#ex)"/>
<rect x="703.4" y="1949.92" width="27.9" height="22" rx="6" ry="7" fill="url(#ex)"/>
<rect x="735.2" y="1949.92" width="4" height="22" rx="2" ry="7" fill="url(#ex)"/>
<rect x="743.4" y="1949.92" width="3.5" height="22" rx="1.75" ry="7" fill="url(#ex)"/>
<rect x="751.5" y="1949.92" width="11.6" height="22" rx="5.8" ry="7" fill="url(#ex)"/>
<rect x="781.7" y="1949.92" width="11" height="22" rx="5.5" ry="7" fill="url(#ex)"/>
<rect x="802.7" y="1949.92" width="7.6" height="22" rx="3.8" ry="7" fill="url(#ex)"/>
<rect x="814.3" y="1949.92" width="3.5" height="22" rx="1.75" ry="7" fill="url(#ex)"/>
<rect x="825.2" y="1949.92" width="27.5" height="22" rx="6" ry="7" fill="url(#ex)"/>
<rect x="665.5" y="1993.63" width="5.3" height="16.5" fill="url(#ut)"/>
<rect x="861.5" y="1993.63" width="5.1" height="16.5" fill="url(#ut)"/>
<rect x="670.8" y="1990.88" width="190.7" height="22" rx="6" ry="7" fill="url(#ex)"/>
<rect x="841" y="2034.59" width="11.7" height="16.5" fill="url(#ut)"/>
<rect x="665.5" y="2031.84" width="175.5" height="22" rx="6" ry="7" fill="url(#ex)"/>
<rect x="665.5" y="2075.55" width="3.5" height="16.5" fill="url(#ut)"/>
<rect x="875.5" y="2075.55" width="46.9" height="16.5" fill="url(#ut)"/>
<rect x="669" y="2072.8" width="206.5" height="22" rx="6" ry="7" fill="url(#ex)"/>
<rect x="665.5" y="2116.51" width="8.6" height="16.5" fill="url(#ut)"/>
<rect x="809" y="2116.51" width="6" height="16.5" fill="url(#ut)"/>
<rect x="674.1" y="2113.76" width="134.9" height="22" rx="6" ry="7" fill="url(#ex)"/>
<rect x="665.5" y="2154.72" width="110" height="22" rx="6" ry="7" fill="url(#ex)"/>
<rect x="852.7" y="2154.72" width="20.9" height="22" rx="6" ry="7" fill="url(#ex)"/>
<rect x="665.5" y="2195.68" width="97.6" height="22" rx="6" ry="7" fill="url(#ex)"/>
<rect x="786.4" y="2195.68" width="5.8" height="22" rx="2.9" ry="7" fill="url(#ex)"/>
<rect x="817.3" y="2195.68" width="13.3" height="22" rx="6" ry="7" fill="url(#ex)"/>
<rect x="1912" y="2195.68" width="16.4" height="22" rx="6" ry="7" fill="url(#ex)"/>
<rect x="665.5" y="2239.39" width="19.7" height="16.5" fill="url(#ut)"/>
<rect x="866.2" y="2239.39" width="15.5" height="16.5" fill="url(#ut)"/>
<rect x="685.2" y="2236.64" width="181" height="22" rx="6" ry="7" fill="url(#ex)"/>
<rect x="665.5" y="2277.6" width="23.2" height="22" rx="6" ry="7" fill="url(#ex)"/>
<rect x="1103.6" y="2277.6" width="48.5" height="22" rx="6" ry="7" fill="url(#ex)"/>
<rect x="1157.4" y="2277.6" width="16.2" height="22" rx="6" ry="7" fill="url(#ex)"/>
<rect x="801.5" y="2321.31" width="4.7" height="16.5" fill="url(#ut)"/>
<rect x="665.5" y="2318.56" width="136" height="22" rx="6" ry="7" fill="url(#ex)"/>
<rect x="665.5" y="2359.52" width="110.9" height="22" rx="6" ry="7" fill="url(#ex)"/>
<rect x="665.5" y="2400.48" width="110.9" height="22" rx="6" ry="7" fill="url(#ex)"/>
<rect x="665.5" y="2444.19" width="6.2" height="16.5" fill="url(#ut)"/>
<rect x="758.5" y="2444.19" width="4.6" height="16.5" fill="url(#ut)"/>
<rect x="671.7" y="2441.44" width="86.8" height="22" rx="6" ry="7" fill="url(#ex)"/>
<rect x="665.5" y="2482.4" width="86" height="22" rx="6" ry="7" fill="url(#ex)"/>
<rect x="665.5" y="2526.11" width="32.5" height="16.5" fill="url(#ut)"/>
<rect x="698" y="2523.36" width="11.7" height="22" rx="5.85" ry="7" fill="url(#ex)"/>
<rect x="727.6" y="2523.36" width="75.8" height="22" rx="6" ry="7" fill="url(#ex)"/>
<rect x="665.5" y="2567.07" width="118.6" height="16.5" fill="url(#ut)"/>
<rect x="917.3" y="2567.07" width="5.6" height="16.5" fill="url(#ut)"/>
<rect x="784.1" y="2564.32" width="11.6" height="22" rx="5.8" ry="7" fill="url(#ex)"/>
<rect x="841" y="2564.32" width="76.3" height="22" rx="6" ry="7" fill="url(#ex)"/>
<rect x="665.5" y="2605.28" width="5.8" height="22" rx="2.9" ry="7" fill="url(#ex)"/>
<rect x="695" y="2605.28" width="76.3" height="22" rx="6" ry="7" fill="url(#ex)"/>
<rect x="665.5" y="2648.99" width="35.5" height="16.5" fill="url(#ut)"/>
<rect x="825.2" y="2648.99" width="15.8" height="16.5" fill="url(#ut)"/>
<rect x="701" y="2646.24" width="11" height="22" rx="5.5" ry="7" fill="url(#ex)"/>
<rect x="749.9" y="2646.24" width="75.3" height="22" rx="6" ry="7" fill="url(#ex)"/>
<rect x="665.5" y="2687.2" width="152.3" height="22" rx="6" ry="7" fill="url(#ex)"/>
<rect x="822.9" y="2687.2" width="5.4" height="22" rx="2.7" ry="7" fill="url(#ex)"/>
<rect x="665.5" y="2730.91" width="3" height="16.5" fill="url(#ut)"/>
<rect x="834.1" y="2730.91" width="5.1" height="16.5" fill="url(#ut)"/>
<rect x="668.5" y="2728.16" width="78.4" height="22" rx="6" ry="7" fill="url(#ex)"/>
<rect x="779.4" y="2728.16" width="54.7" height="22" rx="6" ry="7" fill="url(#ex)"/>
<rect x="665.5" y="2771.87" width="5.8" height="16.5" fill="url(#ut)"/>
<rect x="749.2" y="2771.87" width="17" height="16.5" fill="url(#ut)"/>
<rect x="671.3" y="2769.12" width="77.9" height="22" rx="6" ry="7" fill="url(#ex)"/>
<rect x="665.5" y="2810.08" width="80.7" height="22" rx="6" ry="7" fill="url(#ex)"/>
<rect x="752.7" y="2810.08" width="4.6" height="22" rx="2.3" ry="7" fill="url(#ex)"/>
<rect x="744.5" y="2853.79" width="23.3" height="16.5" fill="url(#ut)"/>
<rect x="665.5" y="2851.04" width="79" height="22" rx="6" ry="7" fill="url(#ex)"/>
<rect x="665.5" y="2894.75" width="12.3" height="16.5" fill="url(#ut)"/>
<rect x="827.6" y="2894.75" width="18.6" height="16.5" fill="url(#ut)"/>
<rect x="677.8" y="2892" width="3.2" height="22" rx="1.6" ry="7" fill="url(#ex)"/>
<rect x="689.4" y="2892" width="138.2" height="22" rx="6" ry="7" fill="url(#ex)"/>
<rect x="665.5" y="2932.96" width="62.1" height="22" rx="6" ry="7" fill="url(#ex)"/>
<rect x="665.5" y="2976.67" width="1.1" height="16.5" fill="url(#ut)"/>
<rect x="717.3" y="2976.67" width="26.1" height="16.5" fill="url(#ut)"/>
<rect x="666.6" y="2973.92" width="50.7" height="22" rx="6" ry="7" fill="url(#ex)"/>
<rect x="717.3" y="3017.63" width="7.5" height="16.5" fill="url(#ut)"/>
<rect x="665.5" y="3014.88" width="51.8" height="22" rx="6" ry="7" fill="url(#ex)"/>
<rect x="665.5" y="3058.59" width="16.9" height="16.5" fill="url(#ut)"/>
<rect x="735.2" y="3058.59" width="3.1" height="16.5" fill="url(#ut)"/>
<rect x="682.4" y="3055.84" width="52.8" height="22" rx="6" ry="7" fill="url(#ex)"/>
<rect x="665.5" y="3099.55" width="22.5" height="16.5" fill="url(#ut)"/>
<rect x="740.6" y="3099.55" width="6.3" height="16.5" fill="url(#ut)"/>
<rect x="688" y="3096.8" width="52.6" height="22" rx="6" ry="7" fill="url(#ex)"/>
<rect x="665.5" y="3140.51" width="11.6" height="16.5" fill="url(#ut)"/>
<rect x="727.6" y="3140.51" width="15.8" height="16.5" fill="url(#ut)"/>
<rect x="677.1" y="3137.76" width="50.5" height="22" rx="6" ry="7" fill="url(#ex)"/>
<rect x="665.5" y="3181.47" width="16.9" height="16.5" fill="url(#ut)"/>
<rect x="734.5" y="3181.47" width="43.3" height="16.5" fill="url(#ut)"/>
<rect x="682.4" y="3178.72" width="52.1" height="22" rx="6" ry="7" fill="url(#ex)"/>
<path d="M664.4 3229.8H1953.5M665.4 3229.8V3219.3M727.3 3229.8V3219.3M789.2 3229.8V3219.3M851.1 3229.8V3219.3M913 3229.8V3219.3M974.9 3229.8V3219.3M1036.8 3229.8V3219.3M1098.7 3229.8V3219.3M1160.6 3229.8V3219.3M1222.5 3229.8V3219.3M1284.4 3229.8V3219.3M1346.3 3229.8V3219.3M1408.2 3229.8V3219.3M1470.1 3229.8V3219.3M1532 3229.8V3219.3M1593.9 3229.8V3219.3M1655.8 3229.8V3219.3M1717.7 3229.8V3219.3M1779.6 3229.8V3219.3M1841.5 3229.8V3219.3M1903.4 3229.8V3219.3" stroke="#000" stroke-width="3.5" fill="none"/>
<g font-family="Liberation Sans, Arial, sans-serif" font-size="32" fill="#303030" text-anchor="middle">
<text x="666.9" y="3264">0</text>
<text x="728.8" y="3264">1</text>
<text x="790.7" y="3264">2</text>
<text x="852.6" y="3264">3</text>
<text x="914.5" y="3264">4</text>
<text x="976.4" y="3264">5</text>
<text x="1038.3" y="3264">6</text>
<text x="1100.2" y="3264">7</text>
<text x="1162.1" y="3264">8</text>
<text x="1224" y="3264">9</text>
<text x="1285.9" y="3264">10</text>
<text x="1347.8" y="3264">11</text>
<text x="1409.7" y="3264">12</text>
<text x="1471.6" y="3264">13</text>
<text x="1533.5" y="3264">14</text>
<text x="1595.4" y="3264">15</text>
<text x="1657.3" y="3264">16</text>
<text x="1719.2" y="3264">17</text>
<text x="1781.1" y="3264">18</text>
<text x="1843" y="3264">19</text>
<text x="1904.9" y="3264">20</text>
</g>
<g font-family="Liberation Sans, Arial, sans-serif" font-size="32" fill="#303030">
<text x="643" y="3230.4">5'</text>
<text x="1957" y="3224.5">3'</text>
<text x="1955.5" y="3263.5">Kb</text>
</g>
<rect x="357.5" y="3323.4" width="62" height="30" rx="10" fill="url(#ex)"/>
<path d="M568.6 3336.4H610.9" stroke="#000" stroke-width="6.5"/>
<rect x="786.1" y="3320.9" width="49.5" height="28" fill="url(#ut)"/>
<g font-family="Liberation Sans, Arial, sans-serif" font-size="41" fill="#303030">
<text x="424.5" y="3349.9" textLength="91" lengthAdjust="spacingAndGlyphs">Exon</text>
<text x="613.5" y="3349.9" textLength="104.5" lengthAdjust="spacingAndGlyphs">Intron</text>
<text x="837.5" y="3349.9" textLength="352" lengthAdjust="spacingAndGlyphs">Untranslated region</text>
</g>
</svg>
</body></html>
